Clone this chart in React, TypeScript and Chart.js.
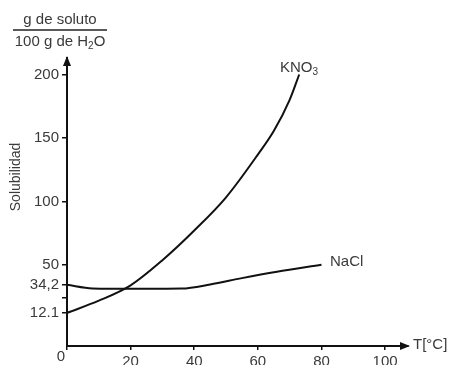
import { useEffect, useRef } from 'react';
import { Chart, registerables } from 'chart.js';

Chart.register(...registerables);

const kno3Temps = [0, 10, 20, 30, 40, 50, 60, 65, 70, 73];
const kno3Values = [12.1, 21.7, 33.8, 53.6, 77, 103.2, 136.9, 155.4, 180, 200];
const naclTemps = [0, 8, 15, 25, 36, 45, 55, 66, 80];
const naclValues = [34.2, 31.4, 31.2, 31.1, 31.3, 34.5, 39.5, 44.5, 50];
const yTickValues = [12.1, 24, 34.2, 50, 100, 150, 200];
const yTickLabels = ['12.1', '', '34,2', '50', '100', '150', '200'];
const xTickValues = [0, 20, 40, 60, 80, 100];
const xTickLabels = ['', '20', '40', '60', '80', '100'];
const seriesNames = ['KNO', 'NaCl'];

const FONT = "'Liberation Sans', Arial, sans-serif";
const TEXT = '#3a3a3a';

const decorations = {
  id: 'decorations',
  afterDraw(chart: any) {
    const { ctx, chartArea } = chart;
    const { left, right, top, bottom } = chartArea;
    ctx.save();
    // arrows
    ctx.fillStyle = '#111';
    ctx.beginPath();
    ctx.moveTo(left, top - 2);
    ctx.lineTo(left - 4, top + 8);
    ctx.lineTo(left + 4, top + 8);
    ctx.closePath();
    ctx.fill();
    ctx.beginPath();
    ctx.moveTo(right + 2, bottom);
    ctx.lineTo(right - 8, bottom - 4);
    ctx.lineTo(right - 8, bottom + 4);
    ctx.closePath();
    ctx.fill();

    ctx.fillStyle = TEXT;
    ctx.textBaseline = 'middle';
    ctx.font = `15px ${FONT}`;
    // KNO3 label
    ctx.textAlign = 'left';
    ctx.fillText(seriesNames[0], 280, 68);
    const w = ctx.measureText(seriesNames[0]).width;
    ctx.font = `10px ${FONT}`;
    ctx.fillText('3', 280 + w, 72);
    ctx.font = `15px ${FONT}`;
    ctx.fillText(seriesNames[1], 330, 262);
    ctx.fillText('T[°C]', 413, 345);
    ctx.textAlign = 'center';
    ctx.fillText('0', 61, 357);

    // fraction
    ctx.fillText('g de soluto', 60, 20);
    ctx.strokeStyle = '#222';
    ctx.lineWidth = 1.5;
    ctx.beginPath();
    ctx.moveTo(13, 30);
    ctx.lineTo(107, 30);
    ctx.stroke();
    const p1 = '100 g de H';
    const p2 = '2';
    const p3 = 'O';
    ctx.font = `15px ${FONT}`;
    const w1 = ctx.measureText(p1).width;
    const w3 = ctx.measureText(p3).width;
    ctx.font = `10px ${FONT}`;
    const w2 = ctx.measureText(p2).width;
    const total = w1 + w2 + w3;
    let x = 60 - total / 2;
    ctx.textAlign = 'left';
    ctx.font = `15px ${FONT}`;
    ctx.fillText(p1, x, 42);
    x += w1;
    ctx.font = `10px ${FONT}`;
    ctx.fillText(p2, x, 46);
    x += w2;
    ctx.font = `15px ${FONT}`;
    ctx.fillText(p3, x, 42);

    // y title
    ctx.translate(16, 177);
    ctx.rotate(-Math.PI / 2);
    ctx.textAlign = 'center';
    ctx.font = `14px ${FONT}`;
    ctx.fillText('Solubilidad', 0, 0);
    ctx.restore();
  },
};

export default function App() {
  const ref = useRef<HTMLCanvasElement>(null);
  useEffect(() => {
    if (!ref.current) return;
    const chart = new Chart(ref.current, {
      type: 'line',
      data: {
        datasets: [
          {
            label: 'KNO3',
            data: kno3Temps.map((t, i) => ({ x: t, y: kno3Values[i] })),
            borderColor: '#111',
            borderWidth: 2,
            pointRadius: 0,
            cubicInterpolationMode: 'monotone',
            fill: false,
          },
          {
            label: 'NaCl',
            data: naclTemps.map((t, i) => ({ x: t, y: naclValues[i] })),
            borderColor: '#111',
            borderWidth: 2,
            pointRadius: 0,
            cubicInterpolationMode: 'monotone',
            fill: false,
          },
        ],
      },
      options: {
        responsive: false,
        animation: false,
        layout: { padding: { top: 58, right: 45, left: 0, bottom: 0 } },
        plugins: { legend: { display: false }, tooltip: { enabled: false } },
        scales: {
          x: {
            type: 'linear',
            min: 0,
            max: 107.2,
            afterFit: (s: any) => {
              s.height = 19;
            },
            afterBuildTicks: (s: any) => {
              s.ticks = xTickValues.map((v) => ({ value: v }));
            },
            ticks: {
              callback: (_v: any, i: number) => xTickLabels[i],
              color: TEXT,
              font: { family: FONT, size: 15 },
              padding: 3,
              maxRotation: 0,
              autoSkip: false,
            },
            grid: { display: true, drawOnChartArea: false, drawTicks: true, tickLength: 4, color: '#111', lineWidth: 1.5 },
            border: { display: true, color: '#111', width: 2 },
          },
          y: {
            type: 'linear',
            min: -14,
            max: 213,
            afterFit: (s: any) => {
              s.width = 67;
            },
            afterBuildTicks: (s: any) => {
              s.ticks = yTickValues.map((v) => ({ value: v }));
            },
            ticks: {
              callback: (_v: any, i: number) => yTickLabels[i],
              color: TEXT,
              font: { family: FONT, size: 15 },
              padding: 3,
              autoSkip: false,
            },
            grid: { display: true, drawOnChartArea: false, drawTicks: true, tickLength: 5, color: '#111', lineWidth: 1.5 },
            border: { display: true, color: '#111', width: 2 },
          },
        },
      },
      plugins: [decorations],
    });
    return () => chart.destroy();
  }, []);
  return (
    <div style={{ position: 'fixed', left: 0, top: 0, width: 453, height: 365, background: '#fff' }}>
      <canvas ref={ref} width={453} height={365} style={{ display: 'block' }} />
    </div>
  );
}
